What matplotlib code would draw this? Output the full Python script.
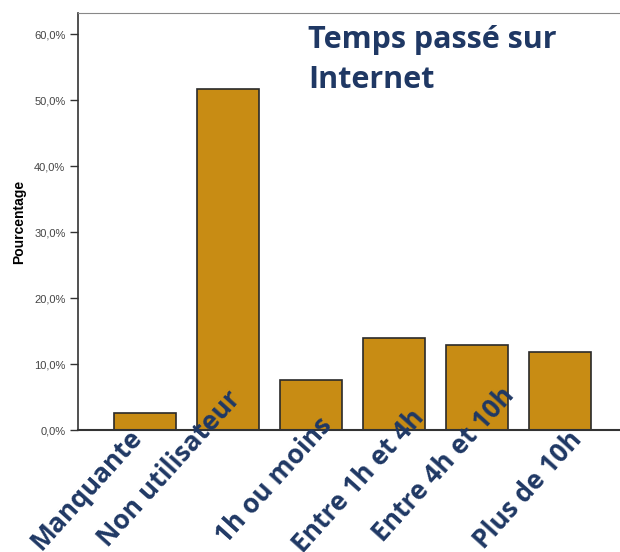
import numpy as np
import matplotlib
matplotlib.use("Agg")
import matplotlib.pyplot as plt
from matplotlib.ticker import FuncFormatter

# data
categories = ["Manquante", "Non utilisateur", "1h ou moins",
              "Entre 1h et 4h", "Entre 4h et 10h", "Plus de 10h"]
pourcentages = [2.6, 51.7, 7.6, 13.9, 12.9, 11.8]
yticks = [0, 10, 20, 30, 40, 50, 60]

# label placement offsets (pixels) - labels were pasted by hand in the original
label_dx = [-2, 14, 22, 31, 38, 23]
label_dy = [-8, 30, 4, 12, 34, -10]

bar_color = "#C88C14"
navy = "#1F3864"

fig = plt.figure(figsize=(6.2, 5.52), dpi=100)
ax = fig.add_axes([78/620, 122/552, 1 - 78/620, (430-13)/552])

x = np.arange(len(categories))
ax.bar(x, pourcentages, width=0.75, color=bar_color, edgecolor="#2a2a2a", linewidth=1.2)

ax.set_xlim(-0.807, 5.72)
ax.set_ylim(0, 63.2)
ax.set_yticks(yticks)
ax.yaxis.set_major_formatter(FuncFormatter(lambda v, p: f"{v:.1f}%".replace(".", ",")))
ax.tick_params(axis="y", direction="out", length=6, width=1, color="#333333",
               labelsize=8, labelcolor="#444444", pad=3)
for lbl in ax.get_yticklabels():
    lbl.set_family("Liberation Sans")
ax.set_xticks([])
ax.set_ylabel("Pourcentage", fontsize=10, fontweight="bold", family="Liberation Sans", labelpad=6)

ax.spines["right"].set_visible(False)
ax.spines["left"].set_color("#333333")
ax.spines["bottom"].set_color("#333333")
ax.spines["bottom"].set_linewidth(1.5)
ax.spines["left"].set_linewidth(1.2)
ax.spines["top"].set_color("#888888")

# category labels, rotated, overlapping the axis like in the slide
for i, cat in enumerate(categories):
    ax.annotate(cat, xy=(i, 0), xycoords="data",
                xytext=(label_dx[i] * 0.72, label_dy[i] * 0.72), textcoords="offset points",
                rotation=48, rotation_mode="anchor", ha="right", va="baseline",
                fontsize=19, fontweight="bold", family="Open Sans", color=navy,
                annotation_clip=False)

fig.text(308/620, 1 - 25/552, "Temps passé sur\nInternet", ha="left", va="top",
         fontsize=22, fontweight="bold", family="Open Sans", color=navy, linespacing=1.42)

fig.savefig("out.png", dpi=100)
